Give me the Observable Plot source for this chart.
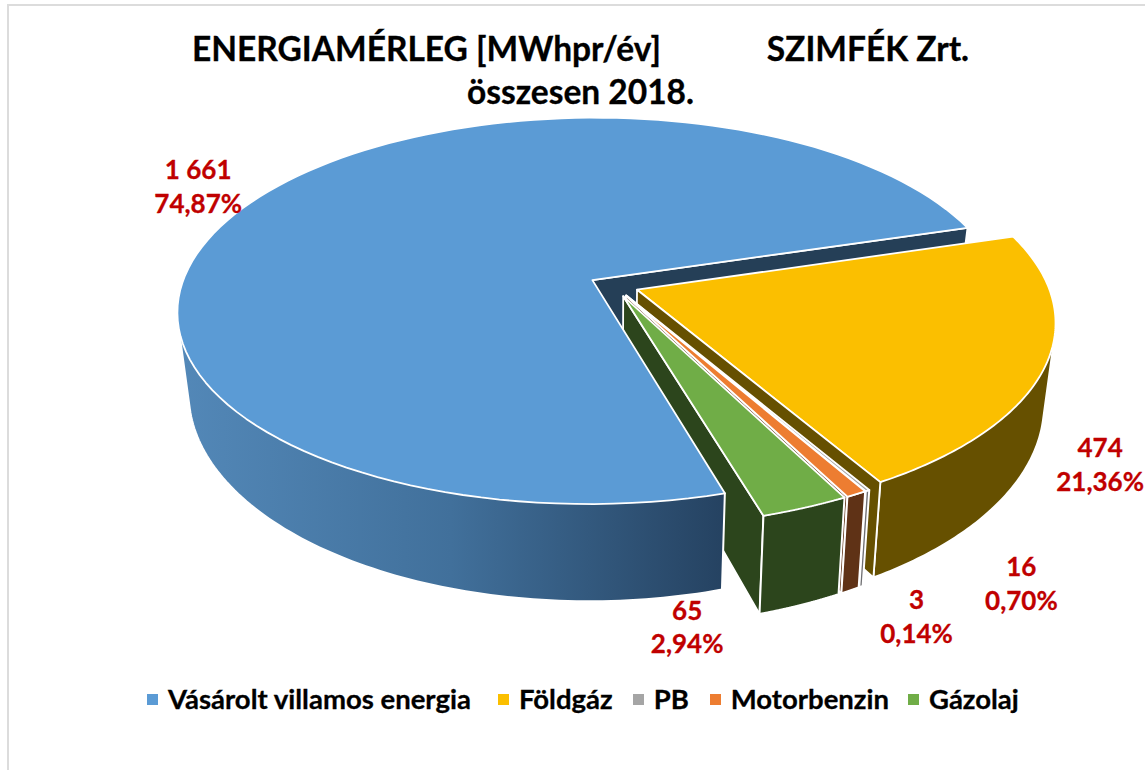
<!DOCTYPE html>
<html><head><meta charset="utf-8">
<script src="https://cdn.jsdelivr.net/npm/d3@7"></script>
<script src="https://cdn.jsdelivr.net/npm/@observablehq/plot@0.6"></script>
<style>
html,body{margin:0;padding:0;background:#fff;}
#page{position:relative;width:1145px;height:770px;overflow:hidden;font-family:Lato,sans-serif;font-weight:700;color:#000;-webkit-text-stroke:0.3px currentColor;}
#frame{position:absolute;left:7px;top:4px;right:-4px;bottom:-4px;border:2px solid #dcdcdc;}
#title{position:absolute;left:0;top:27px;width:1161px;text-align:center;font-size:33.5px;line-height:43px;white-space:pre;}
#chart{position:absolute;left:0;top:115px;}
#legend{position:absolute;left:147px;top:684px;display:flex;align-items:center;font-size:27.5px;line-height:30px;white-space:nowrap;}
#legend i{display:inline-block;width:11px;height:11px;margin-right:10px;}
</style></head>
<body><div id="page">
<div id="frame"></div>
<div id="title"></div>
<div id="chart"></div>
<div id="legend"></div>
</div>
<script>
const titleLines = ["ENERGIAMÉRLEG [MWhpr/év]             SZIMFÉK Zrt.", "összesen 2018."];
const categories = ["Vásárolt villamos energia", "Földgáz", "PB", "Motorbenzin", "Gázolaj"];
const values = [1661, 474, 3, 16, 65];
const valueLabels = ["1 661", "474", "3", "16", "65"];
const shares = [74.87, 21.36, 0.14, 0.70, 2.94];
const shareLabels = ["74,87%", "21,36%", "0,14%", "0,70%", "2,94%"];
const topColors = ["#5b9bd5", "#fbbf00", "#a5a5a5", "#ed7d31", "#70ad47"];
const wallColors = ["url(#blueWall)", "#665000", "#6f6f72", "#5f3216", "#2c451c"];
const cutColors = ["#253f57", "#665000", "#6f6f72", "#5f3216", "#2c451c"];
const labelOffsets = [[-61,-12],[54,99],[49,125],[165,88],[-118,118]];
const legendGaps = [27, 20, 21, 19, 0];

// pie camera
const W = 1145, H = 565, top0 = 115;
const cx = 613.5, cy = 285, R = 411, Ry = 190, K = 0.16, E = 0.06;
const shrink = 0.974, stretch = 1.084, drop = 0.415;
const startAngle = 163.6;
const rad = Math.PI / 180;

// slice angles from shares
const totalShare = d3.sum(shares);
let acc = startAngle;
const slices = shares.map((s, i) => {
  const a0 = acc, a1 = acc + s / totalShare * 360; acc = a1;
  return {i, a0, a1, mid: (a0 + a1) / 2};
});

function topPt(s, r, deg) {
  const m = s.mid * rad, t = deg * rad;
  const u = E * Math.sin(m) + r * Math.sin(t), v = E * Math.cos(m) + r * Math.cos(t);
  const d = 1 + K * v;
  return {x: u / d, y: v / d};
}
const lowPt = (p) => ({x: p.x * shrink, y: p.y * stretch - drop});
const rim = (s, a, b) => d3.range(0, 121).map((j) => topPt(s, 1, a + (b - a) * j / 120));

function poly(points, fill, sw) {
  return Plot.line(points, {x: "x", y: "y", fill, stroke: "#fff", strokeWidth: sw, curve: "linear-closed", strokeLinejoin: "round"});
}
const topFace = (s) => poly([topPt(s, 0, 0), ...rim(s, s.a0, s.a1)], topColors[s.i], 1.8);
// the wall is the hull swept between the top rim and the bottom rim
const outerWall = (s, a, b) => {
  const r = rim(s, a, b);
  const hull = d3.polygonHull([...r, ...r.map(lowPt)].map((p) => [p.x, p.y]));
  return poly(hull.map(([x, y]) => ({x, y})), wallColors[s.i], 2);
};
function cutWall(s, deg, color) {
  const a = topPt(s, 0, 0), b = topPt(s, 1, deg);
  return poly([a, b, lowPt(b), lowPt(a)], color, 1.8);
}

const [blue, yellow, pb, motor, gas] = slices;
const small = (s) => [cutWall(s, s.a1, cutColors[s.i]), outerWall(s, s.a0, s.a1)];

const gradient = () => {
  const ns = "http://www.w3.org/2000/svg";
  const defs = document.createElementNS(ns, "defs");
  const g = document.createElementNS(ns, "linearGradient");
  g.setAttribute("id", "blueWall");
  [["0%", "#5388b8"], ["50%", "#41709b"], ["100%", "#254261"]].forEach(([o, c]) => {
    const st = document.createElementNS(ns, "stop");
    st.setAttribute("offset", o); st.setAttribute("stop-color", c); g.appendChild(st);
  });
  defs.appendChild(g);
  return defs;
};

const labels = slices.map((s) => {
  const p = topPt(s, 1, s.mid);
  return {x: p.x, y: p.y, text: valueLabels[s.i] + "\n" + shareLabels[s.i], dx: labelOffsets[s.i][0], dy: labelOffsets[s.i][1]};
});

const chart = Plot.plot({
  width: W, height: H, margin: 0,
  style: {background: "transparent", overflow: "visible"},
  x: {domain: [-cx / R, (W - cx) / R], range: [0, W], axis: null},
  y: {domain: [(cy - top0) / Ry, (cy - top0 - H) / Ry], range: [0, H], axis: null},
  marks: [
    gradient,
    cutWall(blue, blue.a1, cutColors[0]),
    outerWall(yellow, yellow.a0, yellow.a1),
    topFace(yellow),
    cutWall(yellow, yellow.a1, cutColors[1]),
    ...small(pb), topFace(pb),
    ...small(motor), topFace(motor),
    ...small(gas), topFace(gas),
    outerWall(blue, blue.a0, 290),
    topFace(blue),
    ...labels.map((l) => Plot.text([l], {
      x: "x", y: "y", text: "text", dx: l.dx, dy: l.dy,
      fill: "#c00000", stroke: "#c00000", strokeWidth: 0.3, fontSize: 26, fontWeight: 700, fontFamily: "Lato", lineHeight: 1.3, lineAnchor: "middle", textAnchor: "middle"
    }))
  ]
});
document.getElementById("chart").appendChild(chart);
document.getElementById("title").textContent = titleLines.join("\n");
const legend = document.getElementById("legend");
categories.forEach((c, i) => {
  const sw = document.createElement("i"); sw.style.background = topColors[i];
  const t = document.createElement("span"); t.textContent = c; t.style.marginRight = legendGaps[i] + "px";
  legend.append(sw, t);
});
</script>
</body></html>
